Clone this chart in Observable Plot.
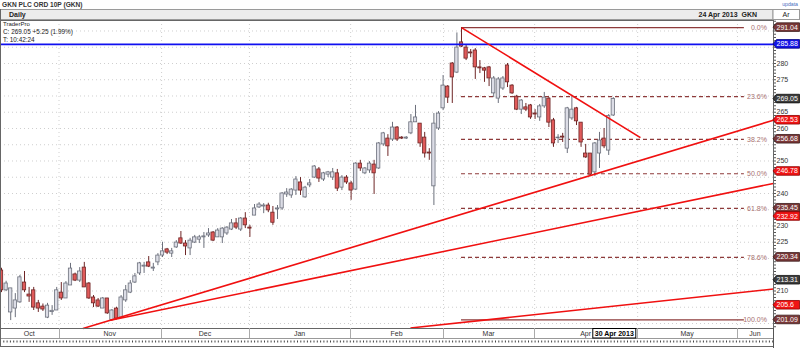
<!DOCTYPE html>
<html><head><meta charset="utf-8">
<script src="https://cdn.jsdelivr.net/npm/d3@7"></script>
<script src="https://cdn.jsdelivr.net/npm/@observablehq/plot@0.6"></script>
<style>
body{margin:0;background:#fff;}
#wrap{width:800px;height:348px;overflow:hidden;}
svg{display:block;font-family:"Liberation Sans",Arial,sans-serif;}
</style></head><body><div id="wrap"></div>
<script>
// Daily OHLC, one entry per trading day (index = trading-day position)
const opens  = [216.3,210.2,203.4,204.6,206.5,212.6,208.9,210.2,206.2,205.2,201.8,203.5,204.0,209.5,207.7,211.7,215.1,213.2,217.2,212.3,208.0,207.1,204.6,207.7,201.1,204.6,201.8,207.1,209.5,212.6,215.4,217.5,218.8,216.9,218.8,220.9,222.8,221.5,223.4,226.2,224.6,223.1,224.9,225.8,226.5,227.1,228.0,226.5,226.5,227.7,228.9,230.8,228.9,232.3,229.5,233.2,235.7,236.0,236.3,234.1,235.1,235.4,239.7,239.4,240.9,243.4,238.8,242.5,244.9,247.4,244.3,245.8,244.9,246.2,241.8,244.9,243.1,241.2,249.2,246.2,247.1,248.9,247.7,255.1,256.9,256.6,260.3,257.2,256.9,258.5,261.9,261.5,257.2,252.6,242.2,260.0,266.2,272.9,280.0,277.2,286.5,284.9,283.4,284.0,278.8,278.5,278.8,270.8,269.2,272.3,279.4,273.2,269.8,265.8,266.5,267.1,264.6,263.4,266.8,269.2,262.5,257.0,257.5,253.8,263.1,266.2,261.8,252.3,252.3,246.5,252.3,256.9,253.2,264.0];
const highs  = [217.0,213.0,210.8,209.2,214.8,216.0,211.1,211.1,207.1,206.0,206.2,205.5,211.1,212.6,212.9,218.5,215.5,217.2,218.8,212.6,208.6,207.7,208.0,207.7,204.3,205.0,208.6,211.7,213.2,215.4,218.8,218.8,220.6,218.5,221.5,225.0,223.1,223.1,225.5,228.3,225.5,226.2,227.1,227.1,228.0,229.2,228.3,229.2,229.5,229.8,232.0,232.3,232.6,234.1,230.2,236.6,237.2,236.9,237.0,236.0,236.3,240.3,241.5,241.5,245.2,244.9,242.2,244.3,248.6,248.0,246.5,246.8,247.7,247.4,245.5,245.5,243.7,249.5,250.2,248.0,249.8,250.2,255.7,258.8,258.1,261.9,260.6,257.5,257.5,264.3,267.1,261.5,258.8,253.8,264.6,265.2,276.3,273.2,280.3,289.4,291.04,285.8,284.3,284.6,280.9,278.8,279.1,276.0,275.7,276.0,280.0,273.5,270.2,268.9,267.7,267.4,265.8,267.4,271.1,269.5,263.1,258.1,258.5,266.5,270.2,266.5,261.8,255.1,252.3,255.7,258.8,260.0,264.3,269.5];
const lows   = [209.5,209.8,200.9,201.8,206.2,209.5,206.5,204.0,203.4,203.7,201.5,202.5,204.0,207.1,207.7,211.7,212.9,212.6,211.1,207.4,204.9,204.9,204.6,202.8,201.09,201.1,201.5,206.5,209.2,212.3,214.8,215.4,217.2,216.0,217.8,220.3,221.2,220.3,223.1,224.3,220.9,220.9,224.6,224.6,223.1,226.5,225.2,226.5,224.6,227.1,228.6,228.9,228.3,229.2,226.5,233.2,235.4,233.8,234.1,230.2,232.0,234.8,238.8,238.5,239.4,239.4,238.5,241.8,244.6,243.4,243.7,244.9,244.0,240.6,240.9,242.8,237.9,240.9,246.8,245.8,246.2,239.7,247.4,254.5,251.4,256.0,256.0,256.6,256.6,258.1,261.9,254.2,250.9,250.2,236.3,259.4,265.5,267.7,267.7,276.9,284.9,280.9,281.8,275.1,276.9,274.2,272.9,269.5,267.7,271.7,272.6,270.5,265.5,264.3,265.2,262.8,262.8,262.2,266.2,260.3,254.2,255.4,255.7,252.3,262.5,260.9,254.2,250.8,245.5,245.2,247.7,253.8,251.7,263.7];
const closes = [210.2,212.3,210.8,207.1,214.2,210.2,208.3,204.9,204.6,204.3,205.5,203.9,210.2,207.7,212.3,216.9,213.2,216.0,211.1,207.7,206.2,205.2,207.7,203.1,204.0,201.5,208.0,210.2,212.3,214.5,218.5,217.8,217.5,217.2,220.9,222.2,221.8,222.2,224.9,224.6,223.7,225.5,226.5,226.5,226.8,227.7,225.5,228.6,229.2,229.5,230.8,229.5,232.3,230.2,229.2,235.4,236.6,236.3,234.8,231.0,235.4,240.0,240.3,241.2,244.3,240.9,241.8,243.1,248.3,244.6,246.2,246.5,246.5,241.5,244.9,243.4,240.9,249.2,247.7,247.7,249.2,246.2,255.4,258.5,254.5,260.3,256.6,256.9,257.2,261.9,263.4,255.4,252.3,252.3,261.5,264.6,273.2,269.5,275.7,284.9,285.2,281.5,283.1,278.8,278.5,277.8,275.4,275.4,275.1,275.4,274.2,270.8,265.8,268.6,265.8,263.4,264.3,266.8,269.5,261.8,255.4,257.2,257.2,266.2,265.8,262.2,255.7,251.1,245.8,255.4,256.3,254.5,263.8,269.05];

// Month axis (positions in trading-day index units)
const monthNames  = ["Oct","Nov","Dec","Jan","Feb","Mar","Apr","May","Jun"];
const monthBounds = [12.5,34.8,53.9,75.9,96.1,115.9,138.3,160.0];

// Price axis ticks
const yTicks = d3.range(200, 295, 5);

// Fibonacci retracement (high 291.04 to low 201.09)
const fibLabels = ["0.0%","23.6%","38.2%","50.0%","61.8%","78.6%","100.0%"];
const fibValues = [291.04,269.81,256.68,246.07,235.45,220.34,201.09];
const fibStartIdx = 100, fibEndIdx = 161.5, fibLabelIdx = 166.4;

// Horizontal resistance
const blueLevel = 285.88;

// Trend lines: start index/price, end index/price
const trendX1 = [17.7, 23.7, 88.9, 100];
const trendY1 = [198.46, 201.0, 198.6, 291.04];
const trendX2 = [167.8, 167.8, 167.8, 138.9];
const trendY2 = [262.53, 243.1, 210.6, 257.2];

// Price tags on right axis
const tagValues = [291.04,285.88,269.05,262.53,256.68,246.78,235.45,232.92,220.34,213.31,205.6,201.09];
const tagKinds  = ["fib","blue","last","trend","fib","trend","fib","trend","fib","last","trend","fib"];

const candles = opens.map((o,i)=>({i, open:o, high:highs[i], low:lows[i], close:closes[i]}));
const fib = fibValues.map((v,k)=>({value:v, label:fibLabels[k], solid: k===0 || k===fibValues.length-1}));
const trends = trendX1.map((x,k)=>({x1:x, y1:trendY1[k], x2:trendX2[k], y2:trendY2[k]}));

const UP_FILL="#dcdde6", UP_STROKE="#6c707c", DN_FILL="#e05a5a", DN_STROKE="#6e2626";
const FIB_COL="#8e3b3b", FIB_TXT="#a77070";
const font = '"Liberation Sans",Arial,sans-serif';

// y tick labels that are not hidden under a price tag (tag height ~9px, ~3.25px per unit)
const visibleTicks = yTicks.filter(t => tagValues.every(v => Math.abs(t - v) * 3.246 >= 6));

const plot = Plot.plot({
  width: 800, height: 348,
  marginLeft: 0, marginRight: 27, marginTop: 20, marginBottom: 20,
  style: {fontFamily: font, background: "#fff"},
  x: {domain: [-0.22, 167.83], axis: null},
  y: {domain: [198.46, 293.23], axis: null},
  color: {type: "identity"},
  marks: [
    Plot.ruleY(yTicks, {stroke: "#cfcfcf", strokeDasharray: "1,3"}),
    Plot.ruleX(monthBounds, {stroke: "#cfcfcf", strokeDasharray: "1,3"}),
    Plot.ruleY(fib.filter(d=>d.solid), {y: "value", x1: fibStartIdx, x2: fibEndIdx, stroke: FIB_COL, strokeWidth: 1.3}),
    Plot.ruleY(fib.filter(d=>!d.solid), {y: "value", x1: fibStartIdx, x2: fibEndIdx, stroke: FIB_COL, strokeWidth: 1.2, strokeDasharray: "4,3"}),
    Plot.text(fib, {x: fibLabelIdx, y: "value", text: "label", textAnchor: "end", fill: FIB_TXT, fontSize: 7}),
    Plot.ruleX(candles, {x: "i", y1: "low", y2: "high", stroke: d => d.close >= d.open ? UP_STROKE : DN_STROKE, strokeWidth: 1}),
    Plot.rect(candles, {x1: d => d.i - 0.36, x2: d => d.i + 0.36, y1: "open", y2: "close",
      fill: d => d.close >= d.open ? UP_FILL : DN_FILL, stroke: d => d.close >= d.open ? UP_STROKE : DN_STROKE, strokeWidth: 0.8}),
    Plot.ruleY([blueLevel], {stroke: "#1010f0", strokeWidth: 1.6}),
    Plot.link(trends, {x1: "x1", y1: "y1", x2: "x2", y2: "y2", stroke: "#f01010", strokeWidth: 1.6}),
    Plot.axisY(d3.range(199, 294, 1), {anchor: "right", tickSize: 2, tickFormat: () => "", label: null, stroke: "#555"}),
    Plot.axisY(visibleTicks, {anchor: "right", tickSize: 0, tickPadding: 3, fontSize: 7, label: null, fill: "#333"}),
    Plot.frame({stroke: "#666"})
  ]
});

document.getElementById("wrap").appendChild(plot);
const svg = d3.select(plot);
const xs = plot.scale("x"), ys = plot.scale("y");
const X = v => xs.apply(v), Y = v => ys.apply(v);
const plotRight = 773;

// Header
const hdr = svg.append("g").attr("font-family", font).attr("text-anchor", "start");
hdr.append("rect").attr("x",0.5).attr("y",9.5).attr("width",plotRight-0.5).attr("height",10).attr("fill","#ececec").attr("stroke","#9a9a9a");
hdr.append("rect").attr("x",plotRight).attr("y",9.5).attr("width",26.5).attr("height",10).attr("fill","#fff").attr("stroke","#9a9a9a");
hdr.append("text").attr("x",2).attr("y",7).attr("font-size",6.6).attr("font-weight","bold").attr("fill","#333").text("GKN PLC ORD 10P (GKN)");
hdr.append("text").attr("x",9).attr("y",17.3).attr("font-size",7).attr("font-weight","bold").attr("fill","#222").text("Daily");
hdr.append("text").attr("x",757).attr("y",17.3).attr("text-anchor","end").attr("font-size",7).attr("font-weight","bold").attr("fill","#222").text("24 Apr 2013  GKN");
hdr.append("text").attr("x",786).attr("y",17.3).attr("text-anchor","middle").attr("font-size",7).attr("fill","#222").text("Ar");
hdr.append("text").attr("x",798).attr("y",6).attr("text-anchor","end").attr("font-size",5.2).attr("fill","#4a6fc0").text("updata");
hdr.append("text").attr("x",3).attr("y",25.5).attr("font-size",6).attr("fill","#222").text("TraderPro");
hdr.append("text").attr("x",3).attr("y",33.5).attr("font-size",6.4).attr("fill","#222").text("C: 269.05 +5.25 (1.99%)");
hdr.append("text").attr("x",3).attr("y",42).attr("font-size",6.4).attr("fill","#222").text("T: 10:42:24");

// Bottom date axis
const bot = svg.append("g").attr("font-family", font);
bot.append("line").attr("x1",0).attr("x2",plotRight).attr("y1",338.5).attr("y2",338.5).attr("stroke","#999");
bot.append("line").attr("x1",0).attr("x2",plotRight).attr("y1",341.5).attr("y2",341.5).attr("stroke","#444").attr("stroke-width",2).attr("stroke-dasharray","1,2.3");
bot.append("line").attr("x1",0).attr("x2",plotRight).attr("y1",346.5).attr("y2",346.5).attr("stroke","#666");
bot.append("line").attr("x1",0.5).attr("x2",0.5).attr("y1",9).attr("y2",347).attr("stroke","#666");
bot.append("line").attr("x1",plotRight+0.5).attr("x2",plotRight+0.5).attr("y1",328).attr("y2",348).attr("stroke","#555");
monthBounds.forEach(b => bot.append("line").attr("x1",Math.round(X(b))+0.5).attr("x2",Math.round(X(b))+0.5).attr("y1",328).attr("y2",338).attr("stroke","#aaa"));
const edges = [xs.domain[0], ...monthBounds, xs.domain[1]];
monthNames.forEach((m,k) => {
  bot.append("text").attr("x", (X(edges[k]) + X(edges[k+1]))/2).attr("y",335.5).attr("text-anchor","middle").attr("font-size",7).attr("fill","#333").text(m);
});
// crosshair date box at the last bar
const cx = X(opens.length - 1) + 1.5;
bot.append("rect").attr("x",cx-21.5).attr("y",328.5).attr("width",43).attr("height",9.5).attr("fill","#fff").attr("stroke","#000");
bot.append("text").attr("x",cx).attr("y",336).attr("text-anchor","middle").attr("font-size",7).attr("font-weight","bold").attr("fill","#000").text("30 Apr 2013");

// Price tags
const tagFill = {fib:"#7a3838", blue:"#1414e6", last:"#3c3c3c", trend:"#f01414"};
const tagStroke = {fib:"#3a1a1a", blue:"#00007a", last:"#111", trend:"#8a0000"};
const tg = svg.append("g").attr("font-family", font).attr("text-anchor", "start");
tagValues.forEach((v,k) => {
  const y = Y(v), kind = tagKinds[k];
  tg.append("path").attr("d", `M${plotRight},${y} L${plotRight+3.5},${y-4.3} L799.5,${y-4.3} L799.5,${y+4.3} L${plotRight+3.5},${y+4.3} Z`)
    .attr("fill", tagFill[kind]).attr("stroke", tagStroke[kind]).attr("stroke-width",0.8);
  tg.append("text").attr("x", plotRight+3.5).attr("y", y+2.5).attr("font-size",7).attr("fill","#fff").text(String(v));
});
</script></body></html>
